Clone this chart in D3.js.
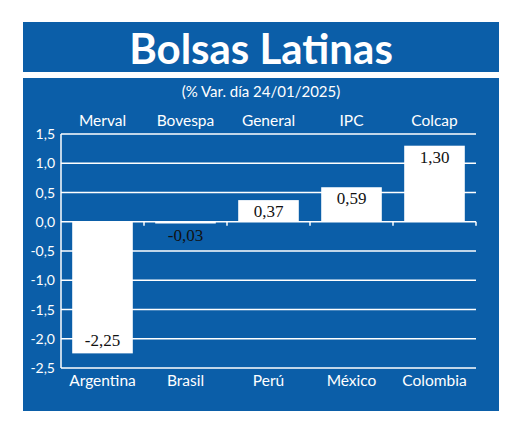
<!DOCTYPE html><html><head><meta charset="utf-8"><script src="https://cdn.jsdelivr.net/npm/d3@7"></script>
<style>body{margin:0;background:#fff}</style></head><body><script>
const countries=["Argentina","Brasil","Perú","México","Colombia"];
const indices=["Merval","Bovespa","General","IPC","Colcap"];
const values=[-2.25,-0.03,0.37,0.59,1.30];
const labels=["-2,25","-0,03","0,37","0,59","1,30"];
const ticks=[1.5,1.0,0.5,0.0,-0.5,-1.0,-1.5,-2.0,-2.5];
const blue="#0b5ea8",F="Lato, 'Open Sans', sans-serif";
const svg=d3.select("body").append("svg").attr("width",520).attr("height",427);
svg.append("rect").attr("x",23).attr("y",22).attr("width",476).attr("height",50).attr("fill",blue);
svg.append("rect").attr("x",23).attr("y",78).attr("width",476).attr("height",333).attr("fill",blue);
svg.append("text").attr("x",261).attr("y",64).attr("text-anchor","middle").attr("fill","#fff").attr("font-family",F).attr("font-weight","bold").attr("font-size",42).text("Bolsas Latinas");
svg.append("text").attr("x",261).attr("y",97).attr("text-anchor","middle").attr("fill","#fff").attr("font-family",F).attr("font-size",15).text("(% Var. día 24/01/2025)");
const x=d3.scaleBand().domain(countries).range([61,476]).paddingInner(0.27).paddingOuter(0.135);
const y=d3.scaleLinear().domain([-2.5,1.5]).range([368,134]);
const fmt=d=>d3.format(".1f")(d).replace(".",",").replace("−","-");
svg.append("g").selectAll("line").data(ticks.filter(t=>t!==0)).join("line").attr("x1",61).attr("x2",476).attr("y1",d=>y(d)).attr("y2",d=>y(d)).attr("stroke","#fff").attr("stroke-width",1.5);
svg.append("g").selectAll("text").data(ticks).join("text").attr("x",55).attr("y",d=>y(d)+5).attr("text-anchor","end").attr("fill","#fff").attr("font-family",F).attr("font-size",14).text(fmt);
svg.append("line").attr("x1",61).attr("x2",61).attr("y1",134).attr("y2",368).attr("stroke","#fff").attr("stroke-width",1.5);
svg.append("g").selectAll("rect").data(values).join("rect").attr("x",(d,i)=>x(countries[i])).attr("width",x.bandwidth()).attr("y",d=>y(Math.max(0,d))).attr("height",d=>Math.abs(y(d)-y(0))).attr("fill","#fff");
svg.append("line").attr("x1",61).attr("x2",476).attr("y1",y(0)).attr("y2",y(0)).attr("stroke","#fff").attr("stroke-width",1.5);
const step=x.step(),b0=61;
svg.append("g").selectAll("line").data(d3.range(1,6)).join("line").attr("x1",i=>b0+i*step).attr("x2",i=>b0+i*step).attr("y1",y(0)).attr("y2",y(0)+4).attr("stroke","#fff").attr("stroke-width",1.5);
svg.append("g").selectAll("text").data(values).join("text").attr("x",(d,i)=>x(countries[i])+x.bandwidth()/2).attr("y",d=>d>=0?y(d)+17:Math.max(y(d)-7,y(0)+19)).attr("text-anchor","middle").attr("fill","#111").attr("font-family","'Liberation Serif', serif").attr("font-size",17).text((d,i)=>labels[i]);
svg.append("g").selectAll("text").data(indices).join("text").attr("x",(d,i)=>x(countries[i])+x.bandwidth()/2).attr("y",126).attr("text-anchor","middle").attr("fill","#fff").attr("font-family",F).attr("font-size",15.5).text(d=>d);
svg.append("g").selectAll("text").data(countries).join("text").attr("x",d=>x(d)+x.bandwidth()/2).attr("y",386).attr("text-anchor","middle").attr("fill","#fff").attr("font-family",F).attr("font-size",15.5).text(d=>d);
</script></body></html>
